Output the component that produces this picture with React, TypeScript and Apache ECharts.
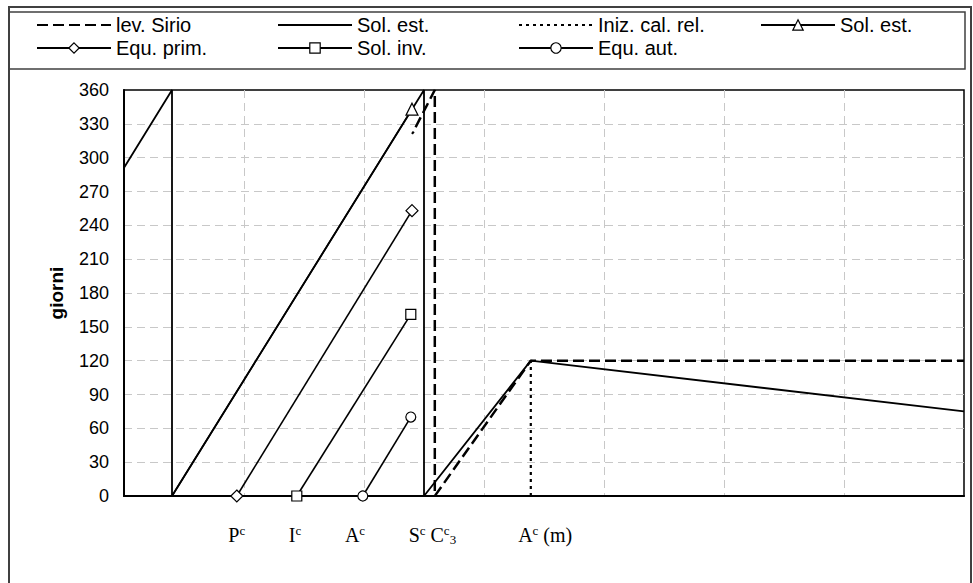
import React, { useEffect, useRef } from "react";
import * as echarts from "echarts";

// ---- data (x in arbitrary time units, one gridline per unit; y in giorni) ----
const yMin = 0;
const yMax = 360;
const yStep = 30;
const xMin = 0;
const xMax = 7;
const xStep = 1;

const xLabelValues = [0.94, 1.425, 1.925, 2.57, 3.51];
const xLabelTexts = [
  "{n|P}{s|c}",
  "{n|I}{s|c}",
  "{n|A}{s|c}",
  "{n|S}{s|c}{n| C}{s|c}{b|3}",
  "{n|A}{s|c}{n| (m)}",
];

const levSirio = [
  [2.43, 327],
  [2.59, 360],
  [2.59, 0],
  [3.39, 120],
  [7, 120],
];
const solEst = [
  [0, 291],
  [0.4, 360],
  [0.4, 0],
  [2.5, 360],
  [2.5, 0],
  [3.39, 120],
  [7, 75],
];
const inizCalRel = [
  [2.4, 321],
  [2.42, 324],
  [2.9, null],
  [3.39, 0],
  [3.39, 120],
];
const solEstMark = [
  [0.4, 0],
  [2.4, 343],
];
const equPrim = [
  [0.94, 0],
  [2.4, 253],
];
const solInv = [
  [1.44, 0],
  [2.39, 161],
];
const equAut = [
  [1.99, 0],
  [2.39, 70],
];

const NAME_SIRIO = "lev. Sirio";
const NAME_SOL = "Sol. est.";
const NAME_INIZ = "Iniz. cal. rel.";
const NAME_SOL_MARK = "Sol. est. ";
const NAME_PRIM = "Equ. prim.";
const NAME_INV = "Sol. inv.";
const NAME_AUT = "Equ. aut.";

const SANS = "Liberation Sans, Arial, sans-serif";
const SERIF = "Liberation Serif, Times New Roman, serif";

function markerSeries(name: string, data: number[][], symbol: string, size: number, firstNone = false) {
  return {
    name,
    type: "line",
    data: data.map((d, i) =>
      firstNone && i === 0 ? { value: d, symbol: "none" } : { value: d }
    ),
    symbol,
    symbolSize: size,
    showSymbol: true,
    color: "#000",
    lineStyle: { color: "#000", width: 1.6, type: "solid" },
    itemStyle: { color: "#fff", borderColor: "#000", borderWidth: 1.2 },
    z: 5,
  };
}

function legendComp(left: number, names: any[]) {
  return {
    orient: "vertical",
    left,
    top: 15,
    padding: 0,
    itemGap: 3,
    itemWidth: 74,
    itemHeight: 13,
    selectedMode: false,
    textStyle: { fontFamily: SANS, fontSize: 20, color: "#000", lineHeight: 20 },
    data: names,
  };
}

const hiddenSym = { itemStyle: { opacity: 0 } };
const markSym = { itemStyle: { color: "#fff", borderColor: "#000", borderWidth: 1.2 } };

export default function App() {
  const ref = useRef<HTMLDivElement>(null);

  useEffect(() => {
    if (!ref.current) return;
    const chart = echarts.init(ref.current, null, { renderer: "svg" });
    const option: any = {
      animation: false,
      backgroundColor: "#fff",
      graphic: [
        {
          type: "rect",
          silent: true,
          shape: { x: 9, y: 7, width: 962, height: 590 },
          style: { fill: "none", stroke: "#404040", lineWidth: 2 },
        },
        {
          type: "rect",
          silent: true,
          shape: { x: 9, y: 12, width: 956, height: 57 },
          style: { fill: "none", stroke: "#404040", lineWidth: 1.5 },
        },
      ],
      legend: [
        legendComp(36, [
          { name: NAME_SIRIO, ...hiddenSym },
          { name: NAME_PRIM, ...markSym },
        ]),
        legendComp(277, [
          { name: NAME_SOL, ...hiddenSym },
          { name: NAME_INV, ...markSym },
        ]),
        legendComp(518, [
          { name: NAME_INIZ, ...hiddenSym },
          { name: NAME_AUT, ...markSym },
        ]),
        legendComp(760, [{ name: NAME_SOL_MARK, ...markSym }]),
      ],
      grid: {
        left: 124,
        right: 9,
        top: 90,
        bottom: 87,
        show: true,
        borderColor: "#000",
        borderWidth: 1.5,
        backgroundColor: "transparent",
      },
      xAxis: {
        type: "value",
        min: xMin,
        max: xMax,
        interval: xStep,
        axisLine: { show: true, lineStyle: { color: "#000", width: 2 } },
        axisTick: { show: false },
        splitLine: {
          show: true,
          showMinLine: false,
          showMaxLine: false,
          lineStyle: { color: "#c8c8c8", width: 1, type: [8, 5] },
        },
        axisLabel: {
          customValues: xLabelValues,
          margin: 28,
          hideOverlap: false,
          formatter: (v: number) => {
            const i = xLabelValues.findIndex((x) => Math.abs(x - v) < 1e-6);
            return i >= 0 ? xLabelTexts[i] : "";
          },
          rich: {
            n: { fontFamily: SERIF, fontSize: 20, color: "#000", lineHeight: 22 },
            s: { fontFamily: SERIF, fontSize: 13, color: "#000", lineHeight: 14, verticalAlign: "top" },
            b: { fontFamily: SERIF, fontSize: 13, color: "#000", lineHeight: 12, verticalAlign: "bottom" },
          },
        },
      },
      yAxis: {
        type: "value",
        min: yMin,
        max: yMax,
        interval: yStep,
        name: "giorni",
        nameLocation: "middle",
        nameGap: 58,
        nameTextStyle: { fontFamily: SANS, fontSize: 19, fontWeight: "bold", color: "#000" },
        axisLine: { show: true, lineStyle: { color: "#000", width: 2 } },
        axisTick: { show: false },
        splitLine: {
          show: true,
          showMinLine: false,
          showMaxLine: false,
          lineStyle: { color: "#c8c8c8", width: 1, type: [8, 5] },
        },
        axisLabel: { fontFamily: SANS, fontSize: 18, color: "#000", margin: 15 },
      },
      series: [
        {
          name: NAME_SIRIO,
          type: "line",
          data: levSirio,
          symbol: "none",
          color: "#000",
          lineStyle: { color: "#000", width: 2.5, type: [11, 5] },
          z: 3,
        },
        {
          name: NAME_SOL,
          type: "line",
          data: solEst,
          symbol: "none",
          color: "#000",
          lineStyle: { color: "#000", width: 1.8, type: "solid" },
          z: 4,
        },
        {
          name: NAME_INIZ,
          type: "line",
          data: inizCalRel,
          symbol: "none",
          connectNulls: false,
          color: "#000",
          lineStyle: { color: "#000", width: 2.2, type: [3, 4] },
          z: 3,
        },
        markerSeries(NAME_SOL_MARK, solEstMark, "triangle", 12, true),
        markerSeries(NAME_PRIM, equPrim, "diamond", 12),
        markerSeries(NAME_INV, solInv, "rect", 10),
        markerSeries(NAME_AUT, equAut, "circle", 10),
      ],
    };
    chart.setOption(option);
    return () => chart.dispose();
  }, []);

  return (
    <div
      ref={ref}
      style={{ position: "absolute", left: 0, top: 0, width: 973, height: 583, background: "#fff" }}
    />
  );
}
